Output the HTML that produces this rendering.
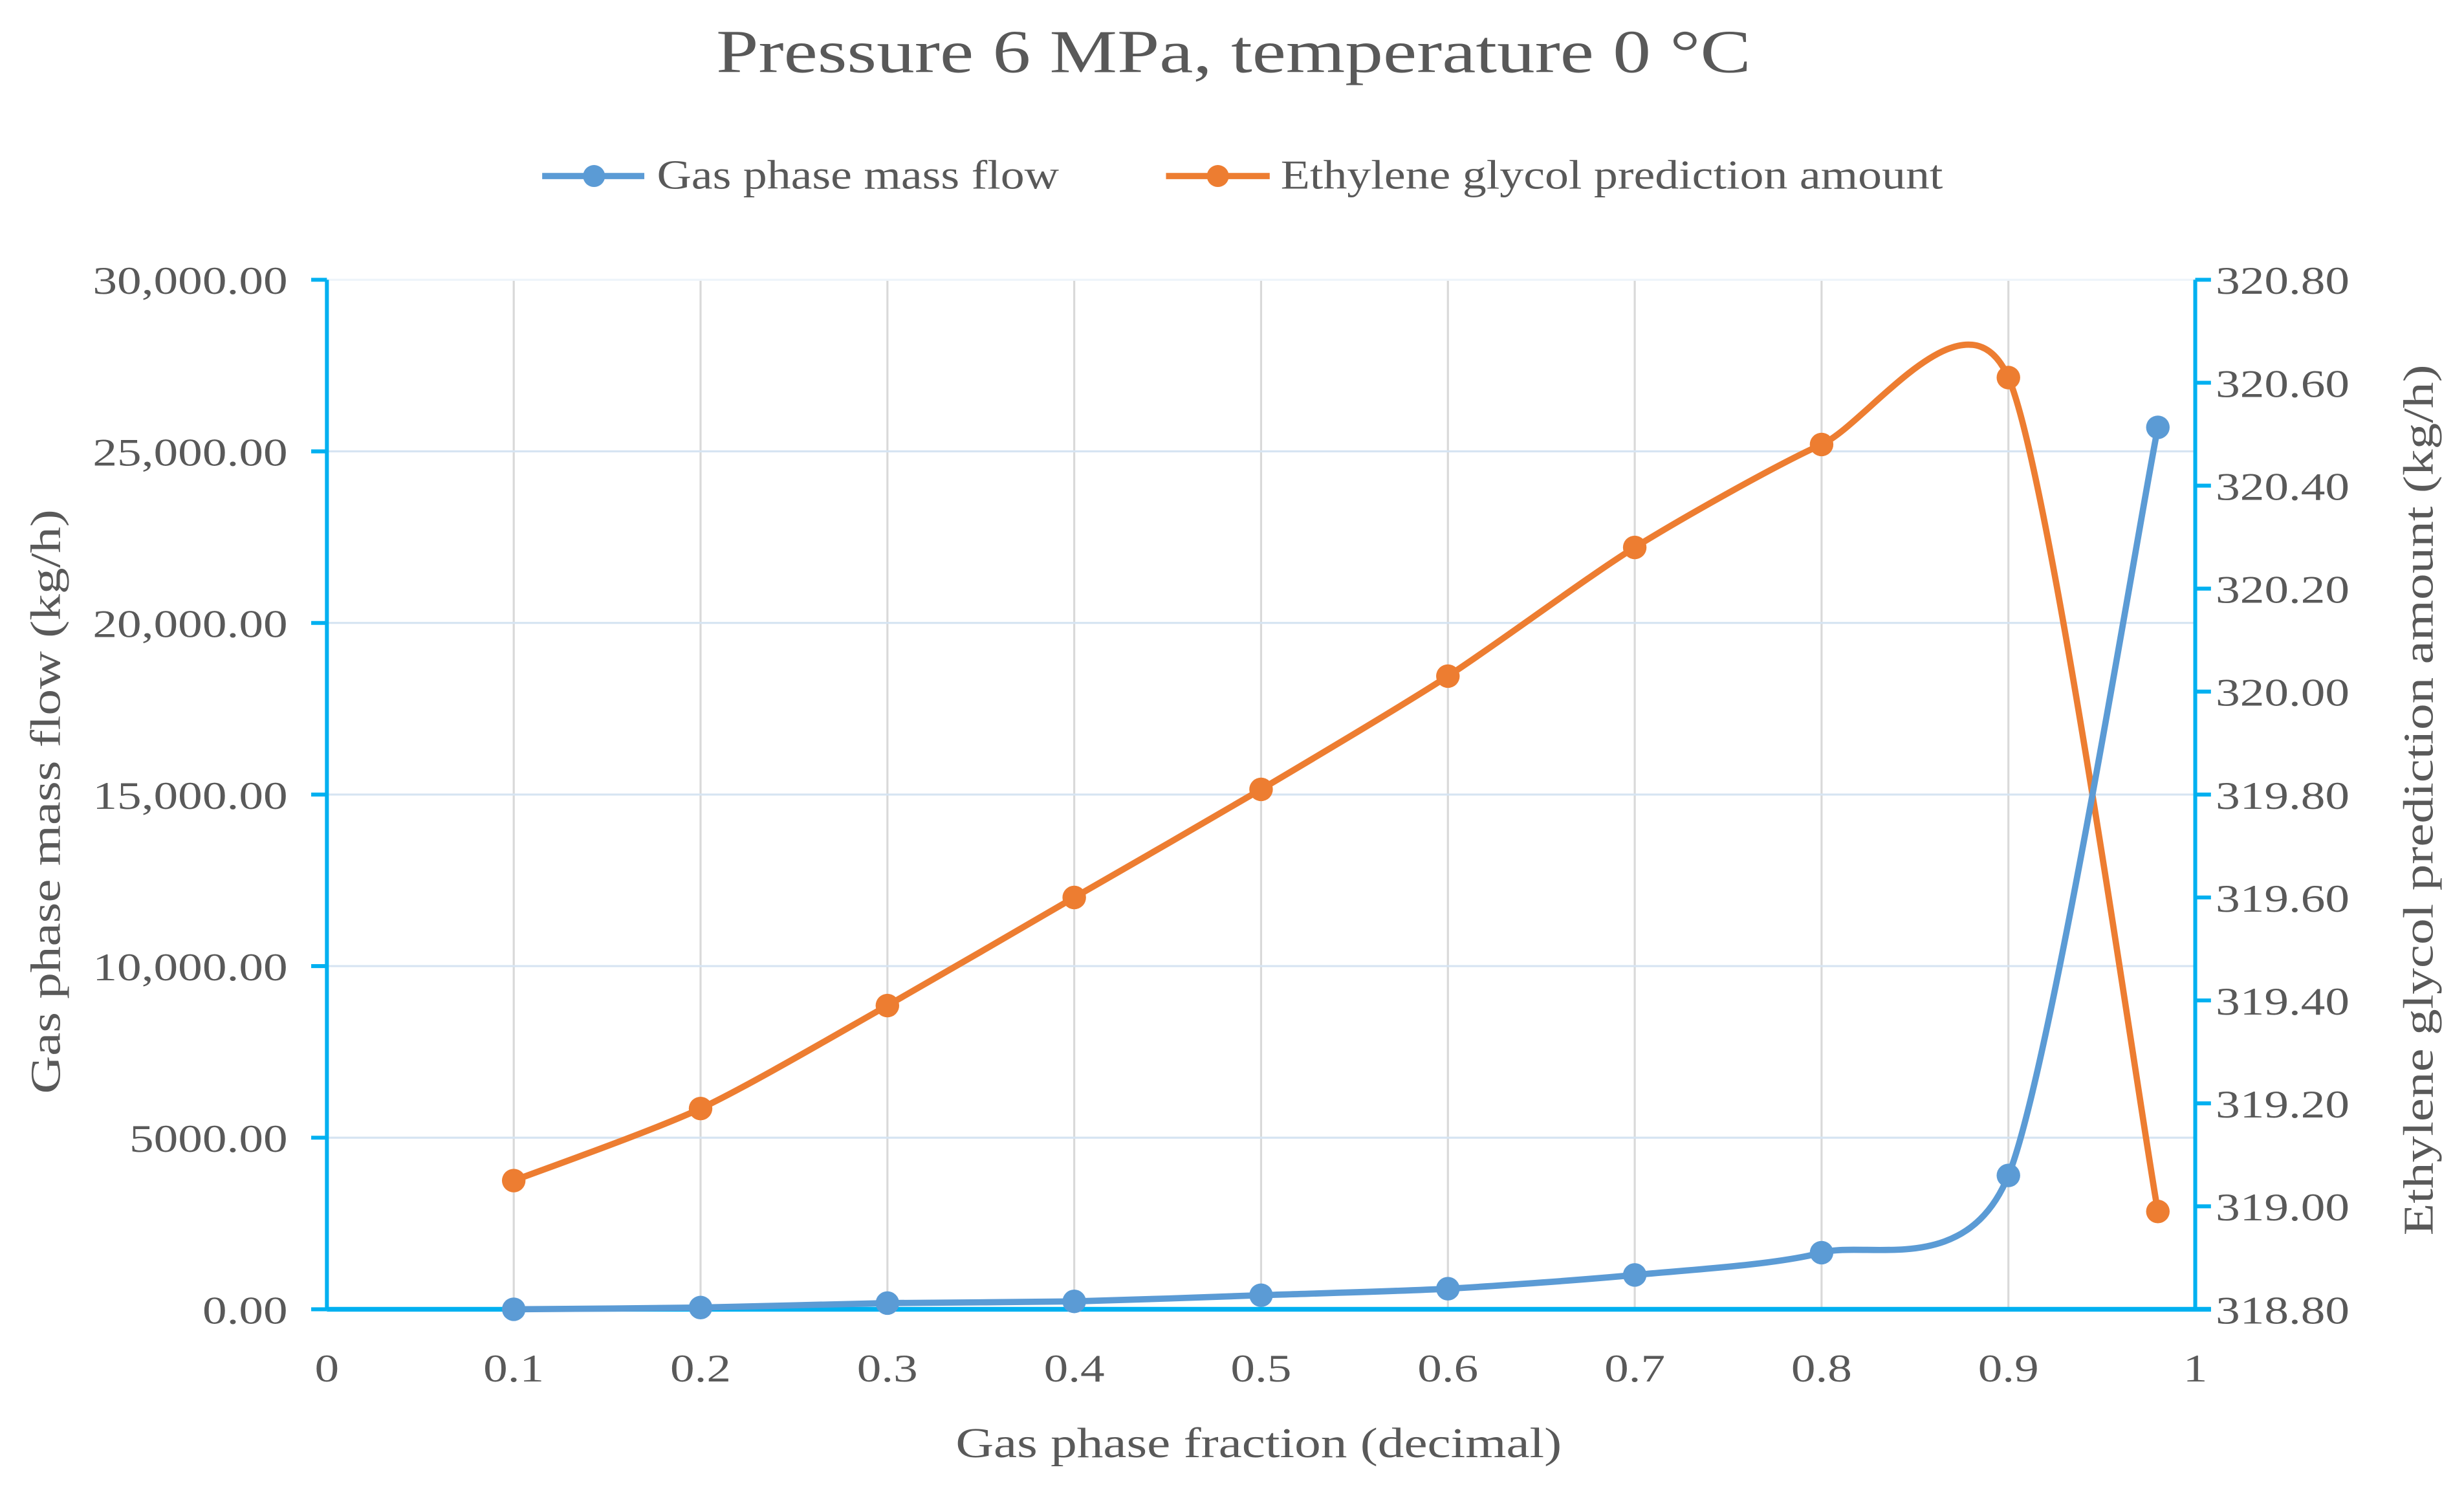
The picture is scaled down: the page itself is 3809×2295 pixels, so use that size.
<!DOCTYPE html>
<html><head><meta charset="utf-8"><style>
html,body{margin:0;padding:0;background:#fff;}
svg{display:block;}
text{font-family:"Liberation Serif",serif;fill:#595959;}
</style></head><body>
<svg id="chart" width="3809" height="2295" viewBox="0 0 1568 944.8" xmlns="http://www.w3.org/2000/svg">
<text x="785" y="46" font-size="39" text-anchor="middle">Pressure 6 MPa, temperature 0 °C</text>
<g>
 <g>
  <line x1="345" y1="112" x2="410" y2="112" stroke="#5b9bd5" stroke-width="4"/>
  <circle cx="378" cy="112" r="7" fill="#5b9bd5"/>
  <text class="leg" x="418" y="120" font-size="26">Gas phase mass flow</text>
 </g>
 <g>
  <line x1="742" y1="112" x2="808" y2="112" stroke="#ed7d31" stroke-width="4"/>
  <circle cx="775" cy="112" r="7" fill="#ed7d31"/>
  <text class="leg" x="815" y="120" font-size="26">Ethylene glycol prediction amount</text>
 </g>
</g>
<g id="grid"></g>
<g id="axes"></g>
<g id="series"></g>
<text x="801" y="927" font-size="27" text-anchor="middle">Gas phase fraction (decimal)</text>
<text transform="translate(38,510) rotate(-90)" font-size="27" text-anchor="middle">Gas phase mass flow (kg/h)</text>
<text transform="translate(1548,509) rotate(-90)" font-size="27" text-anchor="middle">Ethylene glycol prediction amount (kg/h)</text>
</svg>
<script>
const categories = [0.1,0.2,0.3,0.4,0.5,0.6,0.7,0.8,0.9,0.98];
const gasFlow = [0,50,180,230,410,600,1000,1650,3900,25700];
const glycol = [319.05,319.19,319.39,319.60,319.81,320.03,320.28,320.48,320.61,318.99];
const xTicks = [0,0.1,0.2,0.3,0.4,0.5,0.6,0.7,0.8,0.9,1];
const xTickLabels = ["0","0.1","0.2","0.3","0.4","0.5","0.6","0.7","0.8","0.9","1"];
const leftTicks = [0,5000,10000,15000,20000,25000,30000];
const leftTickLabels = ["0.00","5000.00","10,000.00","15,000.00","20,000.00","25,000.00","30,000.00"];
const rightTicks = [318.8,319.0,319.2,319.4,319.6,319.8,320.0,320.2,320.4,320.6,320.8];

const L=208,R=1397,T=178,B=833;
const NS="http://www.w3.org/2000/svg";
const xS=v=>L+(v-0)/(1-0)*(R-L);
const yL=v=>B-(v/30000)*(B-T);
const yR=v=>B-((v-318.8)/2)*(B-T);
function mk(tag,attrs,parent){const e=document.createElementNS(NS,tag);for(const k in attrs)e.setAttribute(k,attrs[k]);parent.appendChild(e);return e;}
const grid=document.getElementById('grid'),axes=document.getElementById('axes'),series=document.getElementById('series');

xTicks.forEach((t,i)=>{
 if(i>0&&i<xTicks.length-1){const g=mk('line',{x1:xS(t),x2:xS(t),y1:T,y2:B,stroke:'#d9d9d9','stroke-width':1.3},grid);
 
 }
 const tx=mk('text',{x:xS(t),y:879,'font-size':25,'text-anchor':'middle'},axes);tx.textContent=xTickLabels[i];
 
 
});
leftTicks.forEach((t,i)=>{
 if(i>0){const g=mk('line',{x1:L,x2:R,y1:yL(t),y2:yL(t),stroke:i==leftTicks.length-1?'#eef4fa':'#d6e4f2','stroke-width':1.3},grid);
 
 }
 mk('line',{x1:L-10,x2:L,y1:yL(t),y2:yL(t),stroke:'#00b0f0','stroke-width':2.5},axes);
 const tx=mk('text',{x:183,y:yL(t)+9,'font-size':25,'text-anchor':'end'},axes);tx.textContent=leftTickLabels[i];
 
 
});
rightTicks.forEach(t=>{
 mk('line',{x1:R,x2:R+10,y1:yR(t),y2:yR(t),stroke:'#00b0f0','stroke-width':2.5},axes);
 const tx=mk('text',{x:1410,y:yR(t)+9,'font-size':25},axes);tx.textContent=t.toFixed(2);
 
 
});
mk('line',{x1:L,x2:L,y1:T,y2:B,stroke:'#00b0f0','stroke-width':2.5},axes);
mk('line',{x1:R,x2:R,y1:T,y2:B,stroke:'#00b0f0','stroke-width':2.5},axes);
mk('line',{x1:L,x2:R+10,y1:B,y2:B,stroke:'#00b0f0','stroke-width':3},axes);

function smooth(pts){
 const k=1/8;
 let d=`M${pts[0][0]},${pts[0][1]}`;
 for(let i=0;i<pts.length-1;i++){
  const p0=pts[i-1]||pts[i],p1=pts[i],p2=pts[i+1],p3=pts[i+2]||p2;
  const c1=[p1[0]+(p2[0]-p0[0])*k,p1[1]+(p2[1]-p0[1])*k];
  const c2=[p2[0]-(p3[0]-p1[0])*k,p2[1]-(p3[1]-p1[1])*k];
  d+=` C${c1[0]},${c1[1]} ${c2[0]},${c2[1]} ${p2[0]},${p2[1]}`;
 }
 return d;
}
function drawSeries(vals,ys,color,name){
 const pts=categories.map((c,i)=>[xS(c),ys(vals[i])]);
 const p=mk('path',{d:smooth(pts),fill:'none',stroke:color,'stroke-width':4,'stroke-linejoin':'round'},series);
 
 
 pts.forEach(pt=>{const c=mk('circle',{cx:pt[0],cy:pt[1],r:7.5,fill:color},series);
 
 });
}
drawSeries(glycol,yR,'#ed7d31','glycol');
drawSeries(gasFlow,yL,'#5b9bd5','gas-flow');

document.querySelectorAll('text').forEach(t=>{
 const w=t.getComputedTextLength();
 const f=t.classList.contains('leg')?1.17:1.24;
 if(w>0){t.setAttribute('textLength',(w*f).toFixed(1));t.setAttribute('lengthAdjust','spacingAndGlyphs');}
});
</script>
</body></html>
